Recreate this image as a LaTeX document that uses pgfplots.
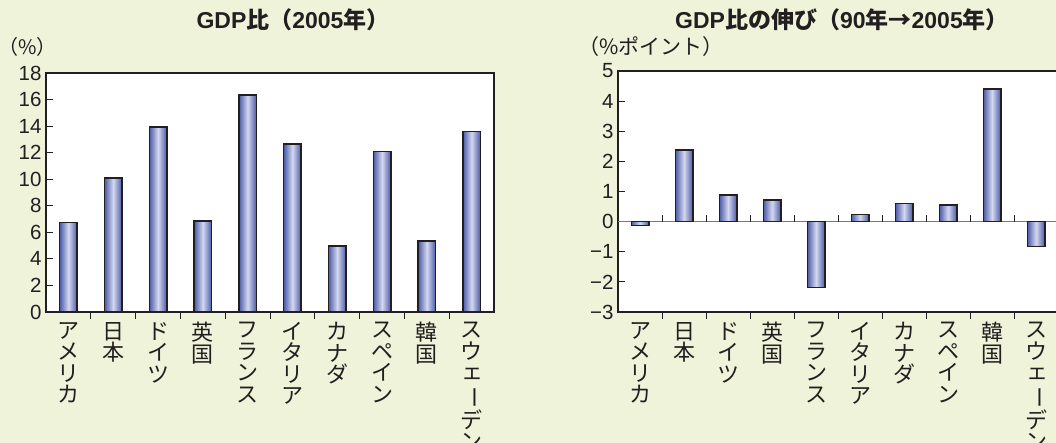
\documentclass[border=0pt]{standalone}
\usepackage{fontspec}
\usepackage{graphicx}
\usepackage{pgfplots}
\pgfplotsset{compat=1.18}
\setmainfont{Liberation Sans}
\newfontfamily\jp{Noto Sans CJK JP}

\definecolor{bg}{HTML}{EEF3D9}
\definecolor{ink}{HTML}{231F20}
\definecolor{bardark}{HTML}{4A5AA6}
\definecolor{barlight}{HTML}{D4D8F0}
\definecolor{zeroline}{HTML}{7A7A7A}

% vertical forms for the stacked category names
\newcommand{\chouon}{\rotatebox[origin=c]{-90}{ー}}
\newcommand{\smalle}{\hspace*{0.12em}\raisebox{0.08em}{ェ}}

\pgfplotsset{
  gdpaxis/.style={
    scale only axis, anchor=south west,
    xmin=-0.5, xmax=9.5,
    xtick={0,...,9},
    minor xtick={0.5,1.5,...,8.5},
    xticklabels={{ア\\メ\\リ\\カ},{日\\本},{ド\\イ\\ツ},{英\\国},{フ\\ラ\\ン\\ス},
                 {イ\\タ\\リ\\ア},{カ\\ナ\\ダ},{ス\\ペ\\イ\\ン},{韓\\国},
                 {ス\\ウ\\\smalle\\\chouon\\デ\\ン}},
    xticklabel style={align=center, anchor=north, inner sep=0pt, yshift=-3pt,
      font=\fontsize{22pt}{21.5pt}\selectfont\jp, text=ink},
    yticklabel style={font=\fontsize{20.5pt}{20.5pt}\selectfont, text=ink, xshift=-1pt},
    /pgf/number format/assume math mode=true,
    tick align=inside, xtick pos=bottom, ytick pos=left,
    major tick length=7pt, minor tick length=7pt,
    every tick/.style={ink, line width=1pt},
    major x tick style={draw=none},
    axis line style={ink, line width=2pt},
    axis background/.style={fill=white},
    ybar, bar width=17.5pt,
    clip=false,
  },
  gdpbar/.style={bar shift=0pt, draw=ink, line width=1.5pt,
    left color=bardark, right color=bardark, middle color=barlight},
}

\begin{document}
\begin{tikzpicture}
\useasboundingbox (0,0) rectangle (1056pt,443pt);
\clip (0,0) rectangle (1056pt,443pt);
\fill[bg] (0,0) rectangle (1056pt,443pt);

% GDP share in 2005 (one plot per bar so each bar gets its own shading)
\node[font=\fontsize{23pt}{23pt}\selectfont\bfseries, text=ink] at (293pt,423pt)
  {GDP{\jp\bfseries 比（}2005{\jp\bfseries 年）}};
\node[anchor=west, inner sep=0pt, font=\fontsize{20pt}{20pt}\selectfont\jp, text=ink]
  at (-2pt,396pt) {（\%）};
\begin{axis}[gdpaxis, at={(46pt,131pt)}, width=448pt, height=239pt,
  ymin=0, ymax=18, ytick={0,2,...,18}]
\addplot[gdpbar] coordinates {(0,6.73)};
\addplot[gdpbar] coordinates {(1,10.10)};
\addplot[gdpbar] coordinates {(2,13.92)};
\addplot[gdpbar] coordinates {(3,6.86)};
\addplot[gdpbar] coordinates {(4,16.36)};
\addplot[gdpbar] coordinates {(5,12.66)};
\addplot[gdpbar] coordinates {(6,4.97)};
\addplot[gdpbar] coordinates {(7,12.09)};
\addplot[gdpbar] coordinates {(8,5.35)};
\addplot[gdpbar] coordinates {(9,13.59)};
\end{axis}

% Change in GDP share, 1990 to 2005
\node[font=\fontsize{23pt}{23pt}\selectfont\bfseries, text=ink] at (842pt,423pt)
  {GDP{\jp\bfseries 比の伸び（}90{\jp\bfseries 年→}2005{\jp\bfseries 年）}};
\node[anchor=west, inner sep=0pt, font=\fontsize{21pt}{21pt}\selectfont\jp, text=ink]
  at (578pt,396pt) {（\%ポイント）};
\begin{axis}[gdpaxis, at={(618pt,131pt)}, width=440pt, height=241pt,
  ymin=-3, ymax=5, ytick={-3,...,5},
  yticklabels={−3,−2,−1,0,1,2,3,4,5}]
\draw[zeroline, line width=1.2pt] (axis cs:-0.5,0) -- (axis cs:9.5,0);
\pgfplotsinvokeforeach{0.5,1.5,2.5,3.5,4.5,5.5,6.5,7.5,8.5}{
  \draw[ink, line width=1pt] (axis cs:#1,0) -- ++(0pt,7pt);
}
\addplot[gdpbar] coordinates {(0,-0.13)};
\addplot[gdpbar] coordinates {(1,2.38)};
\addplot[gdpbar] coordinates {(2,0.88)};
\addplot[gdpbar] coordinates {(3,0.71)};
\addplot[gdpbar] coordinates {(4,-2.19)};
\addplot[gdpbar] coordinates {(5,0.23)};
\addplot[gdpbar] coordinates {(6,0.60)};
\addplot[gdpbar] coordinates {(7,0.56)};
\addplot[gdpbar] coordinates {(8,4.41)};
\addplot[gdpbar] coordinates {(9,-0.83)};
\end{axis}
\end{tikzpicture}
\end{document}
